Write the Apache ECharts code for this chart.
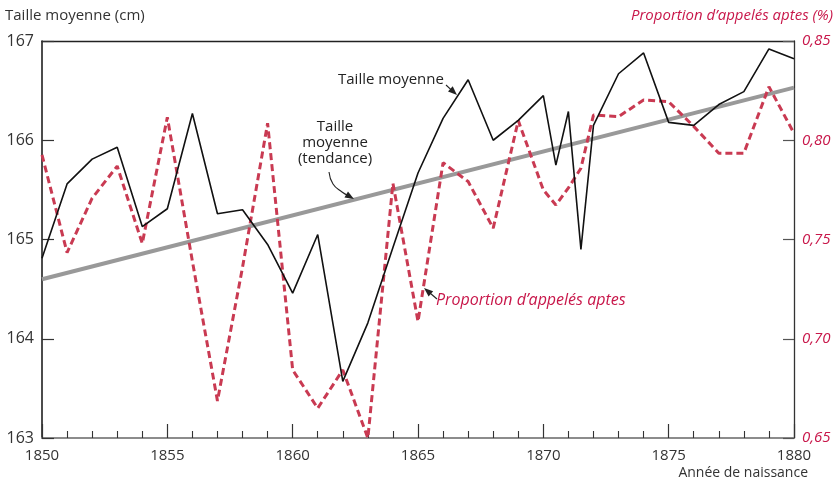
<!DOCTYPE html>
<html><head><meta charset="utf-8">
<script src="https://cdn.jsdelivr.net/npm/echarts@6/dist/echarts.min.js"></script>
<style>html,body{margin:0;padding:0;background:#fff}#c{width:837px;height:484px}</style>
</head><body><div id="c"></div>
<script>
var years = [1850,1851,1852,1853,1854,1855,1856,1857,1858,1859,1860,1861,1862,1863,1864,1865,1866,1867,1868,1869,1870,1870.5,1871,1871.5,1872,1873,1874,1875,1876,1877,1878,1879,1880];
var tailleMoyenne = [164.81,165.56,165.81,165.93,165.13,165.31,166.27,165.26,165.30,164.95,164.46,165.05,163.57,164.16,164.92,165.67,166.22,166.61,166.00,166.20,166.45,165.75,166.29,164.90,166.15,166.67,166.88,166.18,166.15,166.36,166.49,166.92,166.82];
var proportionAptes = [0.7926,0.7434,0.7708,0.787,0.748,0.8116,0.739,0.6687,0.736,0.8086,0.6843,0.665,0.6843,0.650,0.7783,0.7087,0.7887,0.7792,0.7557,0.8099,0.775,0.7674,0.776,0.7859,0.8127,0.8119,0.8203,0.8194,0.807,0.7935,0.7935,0.827,0.8035];
var trendYears = [1850,1880];
var trendValues = [164.6,166.53];
var leftTicks = [163,164,165,166,167];
var rightTicks = [0.65,0.70,0.75,0.80,0.85];

var FONT = '"Open Sans", "Noto Sans", sans-serif';
var RED_TXT = '#c8174a';
var RED_LINE = '#c93a52';

function zip(a,b){return a.map(function(v,i){return [v,b[i]];});}

function arrow(pts, color){
  var n = pts.length;
  var x2 = pts[n-1][0], y2 = pts[n-1][1], x1 = pts[n-2][0], y1 = pts[n-2][1];
  var dx = x2-x1, dy = y2-y1, L = Math.sqrt(dx*dx+dy*dy); dx/=L; dy/=L;
  var len = 9, w = 3.5;
  var bx = x2-dx*len, by = y2-dy*len;
  var line = pts.slice(0,n-1).concat([[bx+dx*2, by+dy*2]]);
  return [
    {type:'polyline', shape:{points:line, smooth: n>2 ? 0.5 : 0}, style:{stroke:color, lineWidth:1.1, fill:null}, z:100},
    {type:'polygon', shape:{points:[[x2,y2],[bx-dy*w,by+dx*w],[bx+dy*w,by-dx*w]]}, style:{fill:color}, z:100}
  ];
}

var chart = echarts.init(document.getElementById('c'), null, {renderer:'canvas'});
var graphics = [
  {type:'text', left:5, top:8, style:{text:'Taille moyenne (cm)', font:'15px '+FONT, fill:'#333'}},
  {type:'text', right:4, top:8, style:{text:'Proportion d\u2019appelés aptes (%)', font:'italic 15px '+FONT, fill:RED_TXT}},
  {type:'text', right:29, top:466, style:{text:'Année de naissance', font:'14px '+FONT, fill:'#333'}},
  {type:'text', left:338, top:72, style:{text:'Taille moyenne', font:'15px '+FONT, fill:'#222'}},
  {type:'text', x:335, y:119, style:{text:'Taille\nmoyenne\n(tendance)', font:'15px '+FONT, fill:'#222', align:'center', verticalAlign:'top', lineHeight:16}},
  {type:'text', left:436, top:292, style:{text:'Proportion d\u2019appelés aptes', font:'italic 16px '+FONT, fill:RED_TXT}}
];
graphics = graphics.concat(arrow([[446,85],[457,95]], '#222'));
graphics = graphics.concat(arrow([[329,172],[333,184],[342,192],[354,199]], '#222'));
graphics = graphics.concat(arrow([[437,299],[424,288]], '#222'));

chart.setOption({
  animation:false,
  backgroundColor:'#fff',
  textStyle:{fontFamily:FONT},
  grid:{left:42, right:43, top:41, bottom:46},
  xAxis:[{
    type:'value', min:1850, max:1880, interval:5,
    axisLine:{show:true, onZero:false, lineStyle:{color:'#8c8c8c', width:2}},
    axisTick:{show:true, inside:true, length:14, lineStyle:{color:'#333', width:1.2}},
    minorTick:{show:true, splitNumber:5, length:7, lineStyle:{color:'#333', width:1.1}},
    splitLine:{show:false},
    axisLabel:{fontSize:15, color:'#333', margin:10, fontFamily:FONT, formatter:function(v){return String(v);}}
  },{
    type:'value', position:'top', min:1850, max:1880,
    axisLine:{show:true, lineStyle:{color:'#222', width:1.3}},
    axisTick:{show:false}, axisLabel:{show:false}, splitLine:{show:false}
  }],
  yAxis:[{
    type:'value', min:leftTicks[0], max:leftTicks[leftTicks.length-1], interval:1,
    axisLine:{show:true, lineStyle:{color:'#111', width:1.5}},
    axisTick:{show:true, inside:true, length:12, lineStyle:{color:'#333', width:1.2}},
    splitLine:{show:false},
    axisLabel:{fontSize:16, color:'#333', margin:8, fontFamily:FONT, formatter:function(v){return String(v);}}
  },{
    type:'value', position:'right', min:rightTicks[0], max:rightTicks[rightTicks.length-1], interval:0.05,
    axisLine:{show:true, lineStyle:{color:'#333', width:1.3}},
    axisTick:{show:true, inside:true, length:11, lineStyle:{color:'#555', width:1.2}},
    splitLine:{show:false},
    axisLabel:{fontSize:15, color:RED_TXT, fontStyle:'italic', margin:8, fontFamily:FONT,
      formatter:function(v){return v.toFixed(2).replace('.',',');}}
  }],
  series:[{
    name:'Taille moyenne (tendance)', type:'line', data:zip(trendYears,trendValues), yAxisIndex:0,
    showSymbol:false, symbol:'none', lineStyle:{color:'#999', width:4}, z:2
  },{
    name:'Proportion d\u2019appelés aptes', type:'line', data:zip(years,proportionAptes), yAxisIndex:1,
    showSymbol:false, symbol:'none', lineStyle:{color:RED_LINE, width:3, type:[7,4]}, z:3
  },{
    name:'Taille moyenne', type:'line', data:zip(years,tailleMoyenne), yAxisIndex:0,
    showSymbol:false, symbol:'none', lineStyle:{color:'#111', width:1.6}, z:4
  }],
  graphic:graphics
});
</script></body></html>
